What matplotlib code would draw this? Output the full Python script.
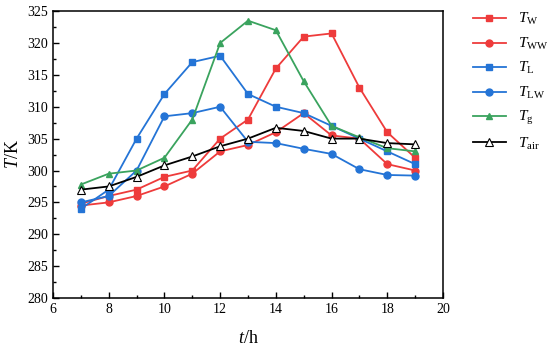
import matplotlib
matplotlib.use('Agg')
import matplotlib.pyplot as plt
from matplotlib.ticker import MultipleLocator

plt.rcParams['font.family'] = 'Liberation Serif'
plt.rcParams['mathtext.fontset'] = 'custom'
plt.rcParams['mathtext.rm'] = 'Liberation Serif'
plt.rcParams['mathtext.it'] = 'Liberation Serif:italic'

# Temperaturen ueber den Tag
hours = [7, 8, 9, 10, 11, 12, 13, 14, 15, 16, 17, 18, 19]
t_w = [294.8, 296, 297, 299, 300, 305, 308, 316, 321, 321.5, 313, 306, 302]
t_ww = [294.5, 295, 296, 297.5, 299.5, 303, 304, 306, 309, 305.5, 305, 301, 300]
t_l = [294, 297, 305, 312, 317, 318, 312, 310, 309, 307, 305, 303, 301]
t_lw = [295, 296, 300, 308.5, 309, 310, 304.5, 304.3, 303.4, 302.6, 300.2, 299.3, 299.2]
t_g = [297.8, 299.5, 300, 302, 308, 320, 323.5, 322, 314, 307, 305.2, 303.5, 303]
t_air = [297, 297.5, 299, 300.8, 302.2, 303.8, 305, 306.7, 306.2, 305, 305, 304.3, 304.1]

red = '#ee3b3b'
blue = '#2474d6'
green = '#3aa35e'

fig = plt.figure(figsize=(5.5, 3.52), dpi=100)
ax = fig.add_axes([0.0964, 0.1534, 0.709, 0.815])

ax.plot(hours, t_w, '-s', color=red, ms=5, lw=1.3, label=r'$T_\mathrm{W}$')
ax.plot(hours, t_ww, '-o', color=red, ms=5, lw=1.3, label=r'$T_\mathrm{WW}$')
ax.plot(hours, t_l, '-s', color=blue, ms=5, lw=1.3, label=r'$T_\mathrm{L}$')
ax.plot(hours, t_lw, '-o', color=blue, ms=5, lw=1.3, label=r'$T_\mathrm{LW}$')
ax.plot(hours, t_g, '-^', color=green, ms=5, lw=1.3, label=r'$T_\mathrm{g}$')
ax.plot(hours, t_air, '-^', color='black', mfc='white', mec='black', mew=0.8,
        ms=6, lw=1.3, label=r'$T_\mathrm{air}$')

ax.set_xlim(6, 20)
ax.set_ylim(280, 325)
ax.xaxis.set_major_locator(MultipleLocator(2))
ax.xaxis.set_minor_locator(MultipleLocator(1))
ax.yaxis.set_major_locator(MultipleLocator(5))
ax.yaxis.set_minor_locator(MultipleLocator(2.5))
ax.tick_params(direction='in', labelsize=10, length=4, width=1)
ax.tick_params(which='minor', direction='in', length=2.5, width=1)
for s in ax.spines.values():
    s.set_linewidth(1.1)

ax.set_xlabel(r'$t$/h', fontsize=13, labelpad=10)
ax.set_ylabel(r'$T$/K', fontsize=13)

fig.legend(loc='upper left', bbox_to_anchor=(0.848, 0.985), frameon=False,
           fontsize=11, handlelength=2.2, labelspacing=0.55, borderaxespad=0)

plt.savefig('out.png')
